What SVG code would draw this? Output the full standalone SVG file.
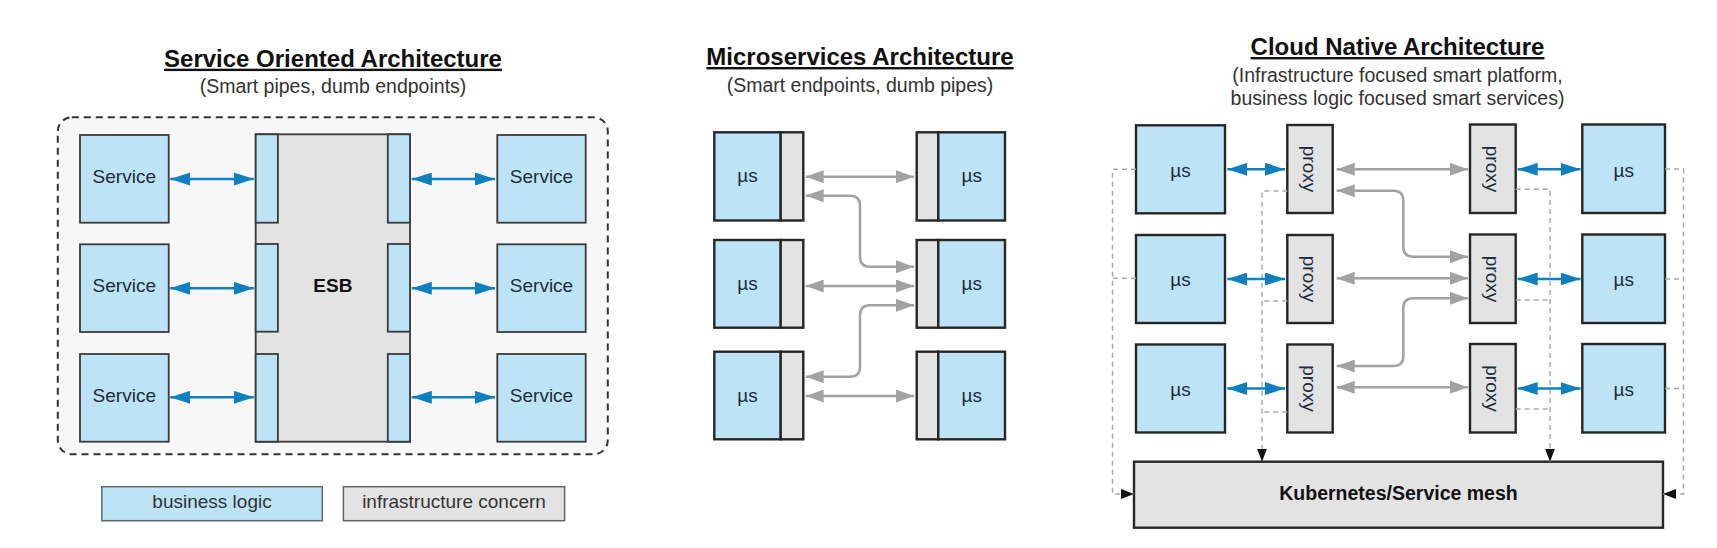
<svg xmlns="http://www.w3.org/2000/svg" width="1717" height="548" viewBox="0 0 1717 548">
<defs>
<style>
text{font-family:"Liberation Sans",Arial,sans-serif}
.title{font-size:24px;font-weight:bold;fill:#111;text-anchor:middle;text-decoration:underline}
.sub{font-size:19.5px;fill:#333;text-anchor:middle}
.lbl{font-size:19px;fill:#1d2b3a;text-anchor:middle}
.blbl{font-size:19px;font-weight:bold;fill:#111;text-anchor:middle}
.blue{fill:#bde3f6;stroke:#262626;stroke-width:2.4}
.gray{fill:#e3e3e3;stroke:#262626;stroke-width:2.4}
#soa .blue,#soa .gray{stroke-width:1.8;stroke:#3a3a3a}
.lgb{fill:#bde3f6;stroke:#666;stroke-width:1.5}
.lgg{fill:#e3e3e3;stroke:#666;stroke-width:1.5}
.barr{fill:none;stroke:#0e80c0;stroke-width:2.6;marker-start:url(#bh);marker-end:url(#bh)}
.garr{fill:none;stroke:#a2a2a2;stroke-width:2.5;marker-start:url(#gh);marker-end:url(#gh)}
.dash{fill:none;stroke:#aaa;stroke-width:1.5;stroke-dasharray:5 4}
.dashe{fill:none;stroke:#aaa;stroke-width:1.5;stroke-dasharray:5 4;marker-end:url(#kh)}
</style>
<marker id="bh" viewBox="0 0 20 13" refX="20" refY="6.5" markerWidth="20" markerHeight="13" markerUnits="userSpaceOnUse" orient="auto-start-reverse"><path d="M0,0 L20,6.5 L0,13 z" fill="#0e80c0"/></marker>
<marker id="gh" viewBox="0 0 18 13" refX="18" refY="6.5" markerWidth="18" markerHeight="13" markerUnits="userSpaceOnUse" orient="auto-start-reverse"><path d="M0,0 L18,6.5 L0,13 z" fill="#a2a2a2"/></marker>
<marker id="kh" viewBox="0 0 13 10" refX="13" refY="5" markerWidth="13" markerHeight="10" markerUnits="userSpaceOnUse" orient="auto"><path d="M0,0 L13,5 L0,10 z" fill="#111"/></marker>
</defs>
<rect width="1717" height="548" fill="#fff"/>

<!-- Titles -->
<g id="titles">
<text class="title" x="333" y="66.7">Service Oriented Architecture</text>
<text class="sub" x="333" y="92.7">(Smart pipes, dumb endpoints)</text>
<text class="title" x="860" y="65">Microservices Architecture</text>
<text class="sub" x="860" y="91.7">(Smart endpoints, dumb pipes)</text>
<text class="title" x="1397.5" y="55">Cloud Native Architecture</text>
<text class="sub" x="1397.5" y="82">(Infrastructure focused smart platform,</text>
<text class="sub" x="1397.5" y="104.5">business logic focused smart services)</text>
</g>

<!-- SOA -->
<g id="soa">
<g id="soa-container"><rect x="57.8" y="117.3" width="550" height="337" rx="14" fill="#f7f7f7" stroke="#333" stroke-width="2" stroke-dasharray="7 5"/></g>
<g id="soa-service-l1"><rect class="blue" x="80" y="135" width="88.7" height="87.7"/><text class="lbl" x="124.3" y="183">Service</text></g>
<g id="soa-service-l2"><rect class="blue" x="80" y="244.3" width="88.7" height="87.7"/><text class="lbl" x="124.3" y="292.3">Service</text></g>
<g id="soa-service-l3"><rect class="blue" x="80" y="354" width="88.7" height="87.7"/><text class="lbl" x="124.3" y="402">Service</text></g>
<g id="soa-service-r1"><rect class="blue" x="497.3" y="135" width="88.4" height="87.7"/><text class="lbl" x="541.5" y="183">Service</text></g>
<g id="soa-service-r2"><rect class="blue" x="497.3" y="244.3" width="88.4" height="87.7"/><text class="lbl" x="541.5" y="292.3">Service</text></g>
<g id="soa-service-r3"><rect class="blue" x="497.3" y="354" width="88.4" height="87.7"/><text class="lbl" x="541.5" y="402">Service</text></g>
<g id="soa-esb">
<rect class="gray" x="255.7" y="134.3" width="154.3" height="307.4"/>
<rect class="blue" x="255.7" y="134.3" width="22.2" height="88.4"/>
<rect class="blue" x="255.7" y="244" width="22.2" height="87.7"/>
<rect class="blue" x="255.7" y="354" width="22.2" height="87.7"/>
<rect class="blue" x="387.8" y="134.3" width="22.2" height="88.4"/>
<rect class="blue" x="387.8" y="244" width="22.2" height="87.7"/>
<rect class="blue" x="387.8" y="354" width="22.2" height="87.7"/>
<text class="blbl" x="332.9" y="292">ESB</text>
</g>
</g>

<!-- Legend -->
<g id="legend-business"><rect class="lgb" x="101.8" y="486.7" width="220.5" height="34"/><text x="212" y="507.5" style="font-size:19px;fill:#333;text-anchor:middle">business logic</text></g>
<g id="legend-infra"><rect class="lgg" x="343.4" y="486.7" width="221.2" height="34"/><text x="454" y="507.5" style="font-size:19px;fill:#333;text-anchor:middle">infrastructure concern</text></g>

<!-- Microservices -->
<g id="ms-l1"><rect class="blue" x="714.3" y="132.3" width="66.4" height="88.2"/><rect class="gray" x="780.7" y="132.3" width="22.6" height="88.2"/><text class="lbl" x="747.5" y="182">µs</text></g>
<g id="ms-l2"><rect class="blue" x="714.3" y="240" width="66.4" height="87.7"/><rect class="gray" x="780.7" y="240" width="22.6" height="87.7"/><text class="lbl" x="747.5" y="290">µs</text></g>
<g id="ms-l3"><rect class="blue" x="714.3" y="351.7" width="66.4" height="87.6"/><rect class="gray" x="780.7" y="351.7" width="22.6" height="87.6"/><text class="lbl" x="747.5" y="401.5">µs</text></g>
<g id="ms-r1"><rect class="gray" x="916.7" y="132.3" width="21.6" height="88.2"/><rect class="blue" x="938.3" y="132.3" width="66.7" height="88.2"/><text class="lbl" x="971.7" y="182">µs</text></g>
<g id="ms-r2"><rect class="gray" x="916.7" y="240" width="21.6" height="87.7"/><rect class="blue" x="938.3" y="240" width="66.7" height="87.7"/><text class="lbl" x="971.7" y="290">µs</text></g>
<g id="ms-r3"><rect class="gray" x="916.7" y="351.7" width="21.6" height="87.6"/><rect class="blue" x="938.3" y="351.7" width="66.7" height="87.6"/><text class="lbl" x="971.7" y="401.5">µs</text></g>

<!-- Cloud native -->
<g id="cn-ms-l1"><rect class="blue" x="1136" y="125.3" width="89" height="88"/><text class="lbl" x="1180.5" y="176.7">µs</text></g>
<g id="cn-ms-l2"><rect class="blue" x="1136" y="235" width="89" height="88"/><text class="lbl" x="1180.5" y="286.4">µs</text></g>
<g id="cn-ms-l3"><rect class="blue" x="1136" y="344.5" width="89" height="88"/><text class="lbl" x="1180.5" y="395.9">µs</text></g>
<g id="cn-proxy-l1"><rect class="gray" x="1287.3" y="125" width="45.4" height="88"/><text class="lbl" x="1310" y="175.6" transform="rotate(90 1310 169)">proxy</text></g>
<g id="cn-proxy-l2"><rect class="gray" x="1287.3" y="235" width="45.4" height="88"/><text class="lbl" x="1310" y="285.6" transform="rotate(90 1310 279)">proxy</text></g>
<g id="cn-proxy-l3"><rect class="gray" x="1287.3" y="344.5" width="45.4" height="88"/><text class="lbl" x="1310" y="395.1" transform="rotate(90 1310 388.5)">proxy</text></g>
<g id="cn-proxy-r1"><rect class="gray" x="1470" y="124.5" width="45.7" height="88.5"/><text class="lbl" x="1492.8" y="175.6" transform="rotate(90 1492.8 169)">proxy</text></g>
<g id="cn-proxy-r2"><rect class="gray" x="1470" y="234.5" width="45.7" height="88.5"/><text class="lbl" x="1492.8" y="285.6" transform="rotate(90 1492.8 279)">proxy</text></g>
<g id="cn-proxy-r3"><rect class="gray" x="1470" y="344" width="45.7" height="88.5"/><text class="lbl" x="1492.8" y="395.1" transform="rotate(90 1492.8 388.5)">proxy</text></g>
<g id="cn-ms-r1"><rect class="blue" x="1582.3" y="124.5" width="82.7" height="88.5"/><text class="lbl" x="1623.7" y="176.5">µs</text></g>
<g id="cn-ms-r2"><rect class="blue" x="1582.3" y="234.5" width="82.7" height="88.5"/><text class="lbl" x="1623.7" y="286.4">µs</text></g>
<g id="cn-ms-r3"><rect class="blue" x="1582.3" y="344" width="82.7" height="88.5"/><text class="lbl" x="1623.7" y="395.9">µs</text></g>
<g id="cn-k8s"><rect class="gray" x="1134" y="461.7" width="529" height="66"/><text class="blbl" x="1398.5" y="499.5" style="font-size:19.5px">Kubernetes/Service mesh</text></g>

<!-- Connectors -->
<g id="connectors">
<path class="barr" d="M170.2,179 H253.8"/>
<path class="barr" d="M170.2,288.3 H253.8"/>
<path class="barr" d="M170.2,397.3 H253.8"/>
<path class="barr" d="M411.8,179 H495"/>
<path class="barr" d="M411.8,288.3 H495"/>
<path class="barr" d="M411.8,397.3 H495"/>

<path class="garr" d="M805.7,176.7 H914"/>
<path class="garr" d="M805.7,195.7 H850 Q860,195.7 860,205.7 V256.7 Q860,266.7 870,266.7 H914"/>
<path class="garr" d="M805.7,286 H914"/>
<path class="garr" d="M914,305.3 H870 Q860,305.3 860,315.3 V366.7 Q860,376.7 850,376.7 H805.7"/>
<path class="garr" d="M805.7,396 H914"/>

<path class="dash" d="M1136,278.3 H1112.5"/>
<path class="dashe" d="M1136,169.3 H1112.5 V494 H1134"/>
<path class="dash" d="M1287.3,301 H1262"/>
<path class="dash" d="M1287.3,412 H1262"/>
<path class="dashe" d="M1287.3,191 H1262 V461.7"/>
<path class="dash" d="M1515.7,300 H1550"/>
<path class="dash" d="M1515.7,409 H1550"/>
<path class="dashe" d="M1515.7,189.3 H1550 V461.7"/>
<path class="dash" d="M1665,279 H1683.5"/>
<path class="dash" d="M1665,388.5 H1683.5"/>
<path class="dashe" d="M1665,169 H1683.5 V494 H1663"/>

<path class="barr" d="M1227.3,169.3 H1285"/>
<path class="barr" d="M1227.3,279 H1285"/>
<path class="barr" d="M1227.3,388.5 H1285"/>
<path class="barr" d="M1517.7,169.3 H1580.5"/>
<path class="barr" d="M1517.7,279 H1580.5"/>
<path class="barr" d="M1517.7,388.5 H1580.5"/>

<path class="garr" d="M1336.7,169.3 H1468"/>
<path class="garr" d="M1336.7,190.7 H1393.3 Q1403.3,190.7 1403.3,200.7 V246.7 Q1403.3,256.7 1413.3,256.7 H1468"/>
<path class="garr" d="M1336.7,278.3 H1468"/>
<path class="garr" d="M1468,298.3 H1413.3 Q1403.3,298.3 1403.3,308.3 V356 Q1403.3,366 1393.3,366 H1336.7"/>
<path class="garr" d="M1336.7,387.3 H1468"/>
</g>
</svg>
